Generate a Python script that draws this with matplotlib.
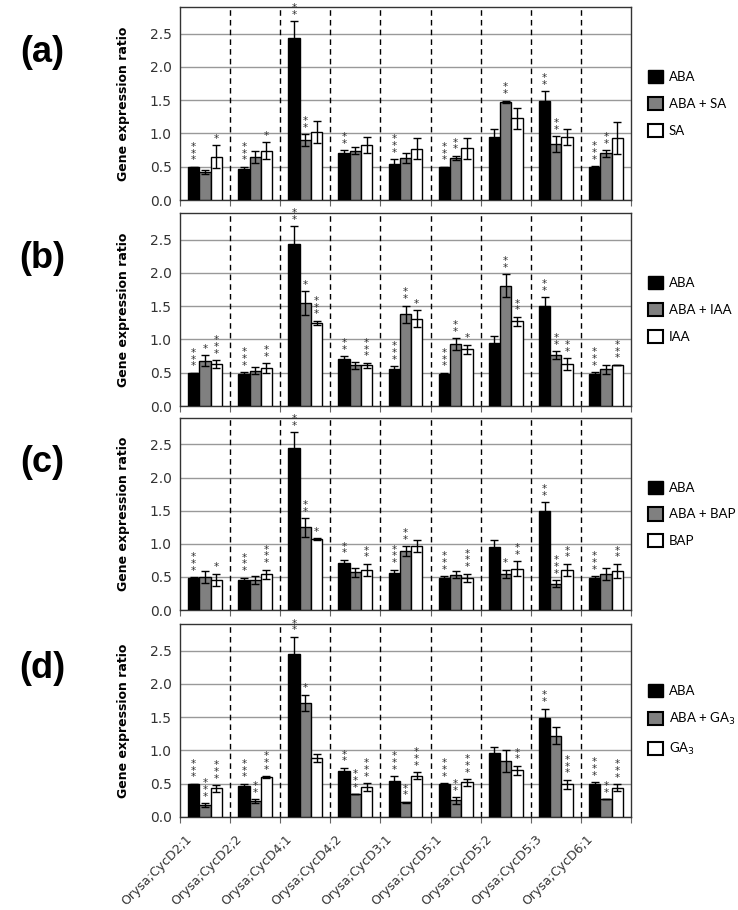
import numpy as np
import matplotlib.pyplot as plt
import matplotlib.transforms as mtransforms
from matplotlib.patches import Patch

genes = ['Orysa;CycD2;1', 'Orysa;CycD2;2', 'Orysa;CycD4;1', 'Orysa;CycD4;2', 'Orysa;CycD3;1',
         'Orysa;CycD5;1', 'Orysa;CycD5;2', 'Orysa;CycD5;3', 'Orysa;CycD6;1']
tags = ['(a)', '(b)', '(c)', '(d)']
treat_names = ['SA', 'IAA', 'BAP', 'GA$_3$']

# panel (a) ABA / ABA + SA / SA
a_aba = [0.49, 0.46, 2.43, 0.71, 0.54, 0.49, 0.95, 1.49, 0.49]
a_aba_err = [0.01, 0.04, 0.26, 0.04, 0.07, 0.01, 0.11, 0.15, 0.02]
a_mix = [0.42, 0.65, 0.90, 0.74, 0.63, 0.635, 1.475, 0.84, 0.70]
a_mix_err = [0.03, 0.09, 0.09, 0.05, 0.07, 0.03, 0.02, 0.12, 0.05]
a_trt = [0.65, 0.74, 1.02, 0.83, 0.77, 0.775, 1.225, 0.95, 0.925]
a_trt_err = [0.17, 0.13, 0.16, 0.12, 0.16, 0.16, 0.16, 0.12, 0.24]
a_sig = [[3, 3, 2, 2, 3, 3, 0, 2, 3], [0, 0, 2, 0, 0, 2, 2, 2, 2], [1, 1, 0, 0, 0, 0, 0, 0, 0]]

# panel (b) ABA / ABA + IAA / IAA
b_aba = [0.49, 0.48, 2.44, 0.70, 0.55, 0.48, 0.94, 1.50, 0.48]
b_aba_err = [0.01, 0.03, 0.26, 0.05, 0.05, 0.02, 0.11, 0.14, 0.03]
b_mix = [0.68, 0.53, 1.55, 0.61, 1.38, 0.93, 1.81, 0.76, 0.55]
b_mix_err = [0.08, 0.05, 0.18, 0.05, 0.13, 0.09, 0.17, 0.06, 0.07]
b_trt = [0.63, 0.57, 1.25, 0.61, 1.31, 0.85, 1.27, 0.63, 0.62]
b_trt_err = [0.06, 0.07, 0.03, 0.04, 0.13, 0.07, 0.07, 0.09, 0.0]
b_sig = [[3, 3, 2, 2, 3, 3, 0, 2, 3], [1, 0, 1, 0, 2, 2, 2, 2, 0], [3, 2, 3, 3, 1, 1, 2, 2, 3]]

# panel (c) ABA / ABA + BAP / BAP
c_aba = [0.49, 0.46, 2.45, 0.71, 0.56, 0.49, 0.95, 1.49, 0.49]
c_aba_err = [0.01, 0.03, 0.24, 0.05, 0.05, 0.02, 0.11, 0.14, 0.02]
c_mix = [0.50, 0.46, 1.25, 0.57, 0.89, 0.535, 0.55, 0.40, 0.55]
c_mix_err = [0.09, 0.06, 0.14, 0.07, 0.07, 0.05, 0.06, 0.05, 0.09]
c_trt = [0.46, 0.54, 1.07, 0.61, 0.97, 0.49, 0.625, 0.61, 0.59]
c_trt_err = [0.09, 0.07, 0.01, 0.09, 0.09, 0.06, 0.11, 0.09, 0.11]
c_sig = [[3, 3, 2, 2, 3, 3, 0, 2, 3], [0, 0, 2, 0, 2, 0, 1, 3, 0], [1, 3, 1, 2, 0, 3, 2, 2, 2]]

# panel (d) ABA / ABA + GA3 / GA3
d_aba = [0.49, 0.47, 2.45, 0.69, 0.54, 0.50, 0.96, 1.49, 0.50]
d_aba_err = [0.01, 0.03, 0.26, 0.05, 0.07, 0.01, 0.09, 0.14, 0.02]
d_mix = [0.18, 0.24, 1.72, 0.34, 0.22, 0.25, 0.84, 1.22, 0.27]
d_mix_err = [0.03, 0.03, 0.12, 0.0, 0.01, 0.05, 0.17, 0.13, 0.0]
d_trt = [0.43, 0.60, 0.88, 0.45, 0.62, 0.52, 0.70, 0.49, 0.44]
d_trt_err = [0.05, 0.01, 0.06, 0.06, 0.05, 0.05, 0.07, 0.07, 0.05]
d_sig = [[3, 3, 2, 2, 3, 3, 0, 2, 3], [3, 2, 1, 3, 2, 2, 0, 0, 2], [3, 3, 0, 3, 3, 3, 2, 3, 3]]

panels = [
    (a_aba, a_aba_err, a_mix, a_mix_err, a_trt, a_trt_err, a_sig),
    (b_aba, b_aba_err, b_mix, b_mix_err, b_trt, b_trt_err, b_sig),
    (c_aba, c_aba_err, c_mix, c_mix_err, c_trt, c_trt_err, c_sig),
    (d_aba, d_aba_err, d_mix, d_mix_err, d_trt, d_trt_err, d_sig),
]

W, H = 738, 910
fig = plt.figure(figsize=(W / 100, H / 100), dpi=100)
plt.rcParams['font.family'] = ['DejaVu Sans']

# axes boxes in pixels (top, bottom)
boxes = [(7, 200), (213, 406), (418, 610), (624, 817)]
left_px, right_px = 180, 631
fills = ['black', '#808080', 'white']
offs = [-0.225, 0.0, 0.225]
bw = 0.225
n = len(genes)
x = np.arange(n) + 0.5

for k, (top, bot) in enumerate(boxes):
    ax = fig.add_axes([left_px / W, 1 - bot / H, (right_px - left_px) / W, (bot - top) / H])
    aba, aba_e, mix, mix_e, trt, trt_e, sig = panels[k]
    vals = [aba, mix, trt]
    errs = [aba_e, mix_e, trt_e]
    for j in range(3):
        v = np.array(vals[j])
        e = np.array(errs[j])
        ax.bar(x + offs[j], v, bw, color=fills[j], edgecolor='black', linewidth=1, zorder=3)
        ax.errorbar(x + offs[j], v, yerr=e, fmt='none', ecolor='black', elinewidth=1,
                    capsize=3, capthick=1, zorder=4)
        for i in range(n):
            if sig[j][i] > 0:
                ax.text(x[i] + offs[j], v[i] + e[i] + 0.02, '\n'.join(['*'] * sig[j][i]),
                        ha='center', va='bottom', fontsize=7.5, color='#333333',
                        linespacing=0.6, clip_on=False, zorder=5)
    ax.set_xlim(0, n)
    ax.set_ylim(0, 2.9)
    ax.set_yticks(np.arange(0, 2.51, 0.5))
    ax.set_yticklabels(['%.1f' % t for t in np.arange(0, 2.51, 0.5)], fontsize=10, color='#333333')
    ax.yaxis.grid(True, color='#999999', linewidth=1, zorder=0)
    ax.set_axisbelow(True)
    for b in range(1, n):
        ax.axvline(b, color='black', linestyle=(0, (4, 3)), linewidth=1, zorder=1)
    ax.tick_params(axis='y', length=0, pad=6)
    ax.set_xticks(np.arange(0, n + 1))
    ax.set_xticklabels([])
    ax.tick_params(axis='x', direction='out', length=4, color='#666666')
    for s in ax.spines.values():
        s.set_color('#333333')
        s.set_linewidth(1)
    ax.set_ylabel('Gene expression ratio', fontsize=9, fontweight='bold')
    ax.yaxis.set_label_coords(-0.111, 0.5)
    if k == 3:
        ax.set_xticks(x, minor=True)
        ax.set_xticklabels(genes, minor=True, rotation=45, ha='right', rotation_mode='anchor',
                           fontsize=9, color='#333333')
        ax.tick_params(axis='x', which='minor', length=0, pad=11)
        shift = mtransforms.ScaledTranslation(-0.2, 0, fig.dpi_scale_trans)
        for lab in ax.get_xticklabels(minor=True):
            lab.set_transform(lab.get_transform() + shift)
    handles = [Patch(facecolor=fills[0], edgecolor='black'),
               Patch(facecolor=fills[1], edgecolor='black', linewidth=1.5),
               Patch(facecolor=fills[2], edgecolor='black', linewidth=1.5)]
    labels = ['ABA', 'ABA + ' + treat_names[k], treat_names[k]]
    ax.legend(handles, labels, loc='center left', bbox_to_anchor=(1.025, 0.5), frameon=False,
              prop={'family': 'Lato', 'size': 9.5}, handlelength=1.15, handleheight=1.15,
              labelspacing=1.05, handletextpad=0.45, borderaxespad=0)
    fig.text(42 / W, 1 - (top + 45) / H, tags[k], ha='center', va='center', fontsize=26,
             fontweight='bold', family='Liberation Sans')

fig.savefig('out.png', dpi=100)
